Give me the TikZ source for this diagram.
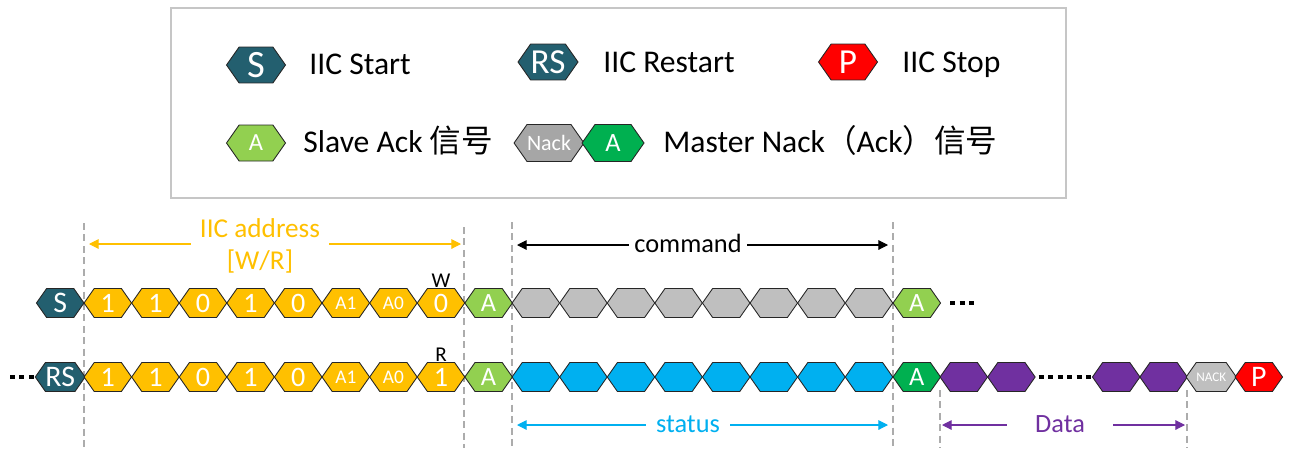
\documentclass[tikz,border=0pt]{standalone}
\usepackage{fontspec}
\setmainfont{Carlito}
\newfontfamily\cjk{Noto Sans CJK SC}
\usepackage{xcolor}
\usepackage{tikz}
\usetikzlibrary{calc}
\usetikzlibrary{arrows.meta}
\usetikzlibrary{shapes.symbols}
\definecolor{iicteal}{HTML}{235F6F}
\definecolor{iicyellow}{HTML}{FFC000}
\definecolor{ackgreen}{HTML}{92D050}
\definecolor{mackgreen}{HTML}{00B050}
\definecolor{cmdgray}{HTML}{BFBFBF}
\definecolor{nackgray}{HTML}{A6A6A6}
\definecolor{statblue}{HTML}{00B0F0}
\definecolor{datapurple}{HTML}{7030A0}
\definecolor{iicred}{HTML}{FF0000}
\newcommand{\addrsm}{\fontsize{11}{11}\selectfont}

\begin{document}
\begin{tikzpicture}[x=0.02cm,y=-0.02cm,
	hexa/.style={shape=signal,signal to=east and west,signal pointer angle=110,draw=black!85,line width=0.5pt,inner sep=0pt,text=white,minimum width=0.95cm,minimum height=0.58cm,font=\fontsize{16}{16}\selectfont},
	leghexa/.style={hexa,minimum width=1.18cm,minimum height=0.72cm},
	legtext/.style={anchor=base west,inner sep=0pt,font=\fontsize{18}{20}\selectfont},
	guide/.style={draw=gray!65,line width=0.6pt,dash pattern=on 4pt off 2.5pt},
	span/.style={{Triangle[length=5.5pt,width=5.5pt]}-{Triangle[length=5.5pt,width=5.5pt]},line width=0.6pt},
	spanlbl/.style={fill=white,anchor=base,inner ysep=3pt,font=\fontsize{15}{18}\selectfont},
	dots/.style={line width=2.8pt,dash pattern=on 2.8pt off 2.6pt}]
	\useasboundingbox (0,0) rectangle (1290,450);
	\draw[gray!45,line width=0.6pt] (171,8) rectangle (1066,198);
	\node[leghexa,fill=iicteal,font=\fontsize{22}{22}\selectfont] (legS) at (256,65) {S};
	\node[legtext] (legStxt) at (309,74) {IIC Start};
	\node[leghexa,fill=iicteal,font=\fontsize{20}{20}\selectfont] (legRS) at (548,62) {RS};
	\node[legtext] (legRStxt) at (603,72) {IIC Restart};
	\node[leghexa,fill=iicred,font=\fontsize{20}{20}\selectfont] (legP) at (848,62) {P};
	\node[legtext] (legPtxt) at (902,72) {IIC Stop};
	\node[leghexa,fill=ackgreen,font=\fontsize{14}{14}\selectfont] (legA) at (256,143) {A};
	\node[legtext] (legAtxt) at (303,152) {Slave Ack {\cjk 信号}};
	\node[leghexa,fill=nackgray,minimum width=1.24cm,minimum height=0.74cm,font=\fontsize{12.5}{13}\selectfont] (legNack) at (549,143) {Nack};
	\node[leghexa,fill=mackgreen,minimum width=1.24cm,minimum height=0.74cm,font=\fontsize{15}{15}\selectfont] (legMA) at (613,143) {A};
	\node[legtext] (legMAtxt) at (663,152) {Master Nack{\cjk （}Ack{\cjk ）信号}};

	\foreach \x/\t in {84/223,464/227,512/222,893/222,940/390,1187/390}
		\draw[guide] (\x,\t) -- (\x,448);

	\node[hexa,fill=iicteal,font=\fontsize{17}{17}\selectfont] (w0) at (60.2,303) {S};
	\foreach \b [count=\i] in {1,1,0,1,0,\addrsm A1,\addrsm A0,0}
		\node[hexa,fill=iicyellow] (w\i) at ({84+(\i-0.5)*47.6},303) {\b};
	\node[hexa,fill=ackgreen,font=\fontsize{15}{15}\selectfont] (wack) at (488.6,303) {A};
	\foreach \i in {1,...,8}
		\node[hexa,fill=cmdgray] (c\i) at ({512+(\i-0.5)*47.6},303) {};
	\node[hexa,fill=ackgreen,font=\fontsize{15}{15}\selectfont] (cack) at (916.8,303) {A};
	\draw[dots] ($(cack.east)+(9,0)$) -- ++(25,0);
	\node[font=\fontsize{12}{12}\selectfont,inner sep=0pt] (wlbl) at (441,281) {W};

	\draw[dots] (10,377) -- (34,377);
	\node[hexa,fill=iicteal,font=\fontsize{17}{17}\selectfont] (r0) at (60.2,377) {RS};
	\foreach \b [count=\i] in {1,1,0,1,0,\addrsm A1,\addrsm A0,1}
		\node[hexa,fill=iicyellow] (r\i) at ({84+(\i-0.5)*47.6},377) {\b};
	\node[hexa,fill=ackgreen,font=\fontsize{15}{15}\selectfont] (rack) at (488.6,377) {A};
	\foreach \i in {1,...,8}
		\node[hexa,fill=statblue] (s\i) at ({512+(\i-0.5)*47.6},377) {};
	\node[hexa,fill=mackgreen,font=\fontsize{15}{15}\selectfont] (sack) at (916.8,377) {A};
	\node[hexa,fill=datapurple] (d1) at (963.8,377) {};
	\node[hexa,fill=datapurple] (d2) at (1011.4,377) {};
	\node[hexa,fill=datapurple] (d3) at (1116.2,377) {};
	\node[hexa,fill=datapurple] (d4) at (1163.6,377) {};
	\draw[dots] ($(d2.east)+(3,0)$) -- ++(53,0);
	\node[hexa,fill=cmdgray,font=\fontsize{7.5}{8}\selectfont] (nack) at (1211.2,377) {NACK};
	\node[hexa,fill=iicred,font=\fontsize{17}{17}\selectfont] (stop) at (1258.8,377) {P};
	\node[font=\fontsize{12}{12}\selectfont,inner sep=0pt] (rlbl) at (441,355) {R};

	\draw[span,iicyellow] (89,244) -- (461,244);
	\node[fill=white,align=center,text=iicyellow,inner xsep=5pt,font=\fontsize{15.5}{18}\selectfont] (addrlbl) at (260,246) {IIC address\\{[W/R]}};
	\draw[span] (517,245) -- (888,245);
	\node[spanlbl] (cmdlbl) at (688,252) {command};
	\draw[span,statblue] (517,425) -- (888,425);
	\node[spanlbl,text=statblue,inner xsep=6pt] (statlbl) at (688,432) {status};
	\draw[span,datapurple] (942,425) -- (1185,425);
	\node[spanlbl,text=datapurple,inner xsep=16pt] (datalbl) at (1060,432) {Data};
\end{tikzpicture}
\end{document}
